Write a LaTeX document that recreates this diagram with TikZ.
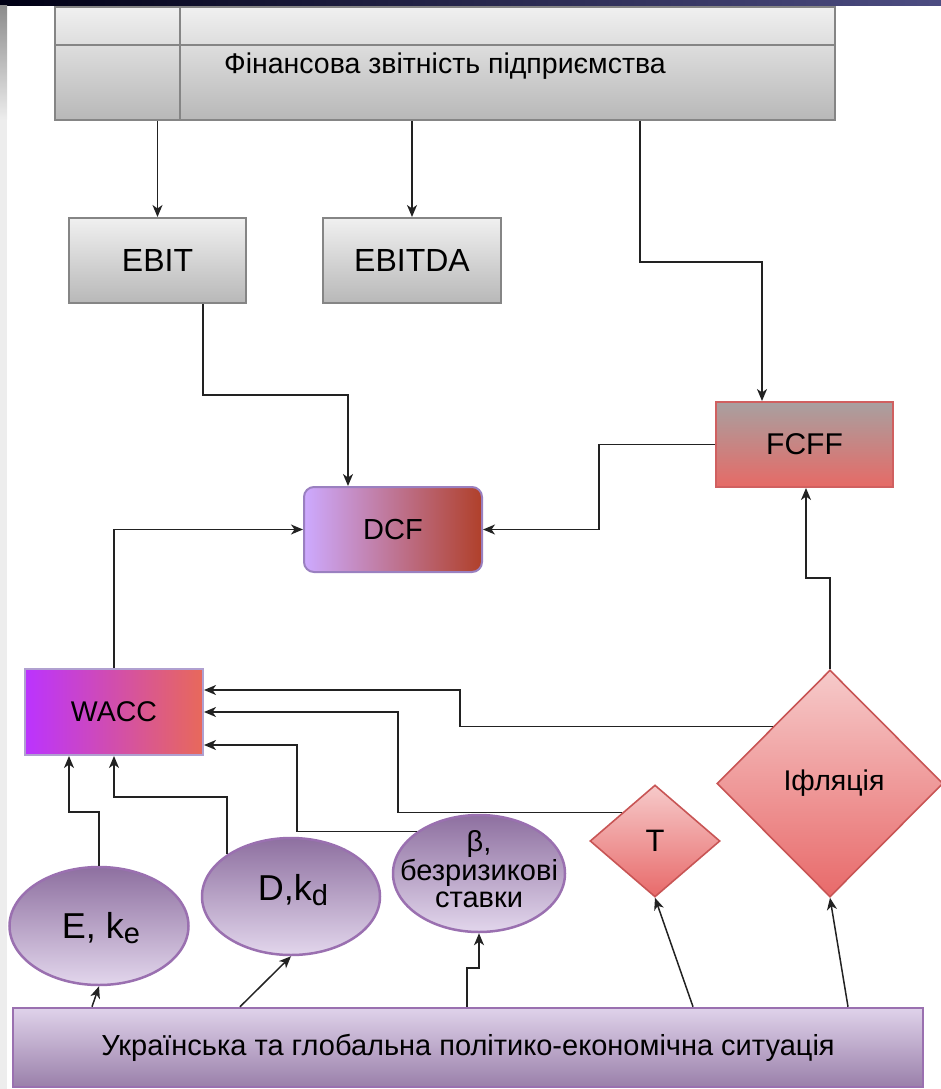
\documentclass[tikz,border=0pt]{standalone}
\usepackage{fontspec}
\setmainfont{Liberation Sans}
\usetikzlibrary{shapes.geometric,arrows.meta}
\definecolor{greytop}{HTML}{F0F0F0}
\definecolor{greybot}{HTML}{B8B8B8}
\definecolor{greyline}{HTML}{858585}
\definecolor{dcfleft}{HTML}{CDAAFF}
\definecolor{dcfright}{HTML}{B0402A}
\definecolor{dcfline}{HTML}{9A80C0}
\definecolor{fcfftop}{HTML}{A8A0A0}
\definecolor{fcffbot}{HTML}{E66A66}
\definecolor{fcffline}{HTML}{D06060}
\definecolor{waccleft}{HTML}{BB33FF}
\definecolor{waccright}{HTML}{E8695A}
\definecolor{waccline}{HTML}{B0A0D0}
\definecolor{diatop}{HTML}{F6CACA}
\definecolor{diabot}{HTML}{E86A6A}
\definecolor{dialine}{HTML}{C85555}
\definecolor{ovtop}{HTML}{8E70A0}
\definecolor{ovbot}{HTML}{E2D6EC}
\definecolor{ovline}{HTML}{9A70B0}
\definecolor{sittop}{HTML}{DFD2EA}
\definecolor{sitbot}{HTML}{9A80AA}
\definecolor{conn}{HTML}{222222}
\begin{document}
\begin{tikzpicture}[x=1pt,y=-1pt,
  every node/.style={inner sep=0pt, text=black},
  txt/.style={font=\fontsize{28.5}{30}\selectfont},
  bigtxt/.style={font=\fontsize{36}{38}\selectfont},
  greybox/.style={rectangle, draw=greyline, line width=2pt, top color=greytop, bottom color=greybot},
  dcfbox/.style={rectangle, rounded corners=10pt, draw=dcfline, line width=2pt, left color=dcfleft, right color=dcfright},
  fcffbox/.style={rectangle, draw=fcffline, line width=2pt, top color=fcfftop, bottom color=fcffbot},
  waccbox/.style={rectangle, draw=waccline, line width=2pt, left color=waccleft, right color=waccright},
  diabox/.style={diamond, draw=dialine, line width=1.6pt, top color=diatop, bottom color=diabot},
  ovalbox/.style={ellipse, draw=ovline, line width=2.5pt, top color=ovtop, bottom color=ovbot},
  sitbox/.style={rectangle, draw=ovline, line width=2.5pt, top color=sittop, bottom color=sitbot},
  arr/.style={draw=conn, line width=1.5pt, -{Stealth[length=12pt,width=10pt,inset=3.5pt]}},
]
\useasboundingbox (0,0) rectangle (941,1089);
% screenshot frame
\fill[left color=black!92!blue, right color=blue!30!black!70!white] (0,0) rectangle (941,6);
\fill[top color=black!45, bottom color=black!7] (0,6) rectangle (7,120);
\fill[black!7] (0,120) rectangle (7,1089);

% top table
\node[greybox, minimum width=780pt, minimum height=113pt] (fin) at (445,63.5) {};
\draw[greyline, line width=2pt] (fin.north -| 180,0) -- (fin.south -| 180,0);
\draw[greyline, line width=2pt] (fin.west |- 0,45) -- (fin.east |- 0,45);
\node[txt] (fintext) at (445,66) {Фінансова звітність підприємства};

\node[greybox, minimum width=177pt, minimum height=85pt, font=\fontsize{32}{34}\selectfont] (ebit) at (157.5,260.5) {EBIT};
\node[greybox, minimum width=178pt, minimum height=85pt, font=\fontsize{32}{34}\selectfont] (ebitda) at (412,260.5) {EBITDA};
\node[fcffbox, minimum width=177pt, minimum height=85pt, font=\fontsize{30}{32}\selectfont] (fcff) at (804.5,444.5) {FCFF};
\node[dcfbox, minimum width=178pt, minimum height=85pt, font=\fontsize{29}{31}\selectfont] (dcf) at (393,529.5) {DCF};
\node[waccbox, minimum width=178pt, minimum height=86pt, txt] (wacc) at (114,712) {WACC};

\node[diabox, minimum width=226pt, minimum height=227pt] (ifl) at (830,783.5) {};
\node[txt] (ifltext) at (834,783) {Іфляція};
\node[diabox, minimum width=130pt, minimum height=112pt] (tax) at (655,841) {};
\node[font=\fontsize{31}{32}\selectfont] (taxtext) at (655,841) {Т};

\node[ovalbox, minimum width=172pt, minimum height=117pt] (beta) at (479,873.5) {};
\node[align=center, font=\fontsize{29}{27}\selectfont] (betatext) at (479,869) {β,\\безризикові\\ставки};
\node[ovalbox, minimum width=178pt, minimum height=117pt] (dk) at (291,896.5) {};
\node[bigtxt] (dktext) at (293,890) {D,k\raisebox{-0.3ex}{\fontsize{29}{29}\selectfont d}};
\node[ovalbox, minimum width=179pt, minimum height=118pt] (ek) at (99,926) {};
\node[bigtxt] (ektext) at (101,928) {E, k\raisebox{-0.3ex}{\fontsize{29}{29}\selectfont e}};

\node[sitbox, minimum width=910pt, minimum height=79pt, font=\fontsize{29}{31}\selectfont] (sit) at (468,1047.5) {Українська та глобальна політико-економічна ситуація};

% connectors
\draw[arr] (fin.south -| ebit.north) -- (ebit.north);
\draw[arr] (fin.south -| ebitda.north) -- (ebitda.north);
\draw[arr] (fin.south -| 640,0) |- (762,262) -- (fcff.north -| 762,0);
\draw[arr] (ebit.south -| 203,0) |- (348,395) -- (dcf.north -| 348,0);
\draw[arr] (fcff.west) -| (599,510) |- (dcf.east);
\draw[arr] (wacc.north) |- (dcf.west);
\draw[arr] (ifl.north) |- (806,578) -- (fcff.south -| 806,0);
\draw[arr] (ifl.north west) -| (460,690) -- (wacc.east |- 0,690);
\draw[arr] (tax.north west) -| (398,712) -- (wacc.east);
\draw[arr] (beta.north west) -| (297,745) -- (wacc.east |- 0,745);
\draw[arr] (dk.north west) |- (wacc.south |- 0,797) -- (wacc.south);
\draw[arr] (ek.north) |- (69,812) -- (wacc.south -| 69,0);
\draw[arr] (sit.north -| 92,0) -- (ek.south);
\draw[arr] (sit.north -| 240,0) -- (dk.south);
\draw[arr] (sit.north -| 467,0) |- (479,968) -- (beta.south);
\draw[arr] (sit.north -| 693,0) -- (tax.south);
\draw[arr] (sit.north -| 848,0) -- (ifl.south);
\end{tikzpicture}
\end{document}
